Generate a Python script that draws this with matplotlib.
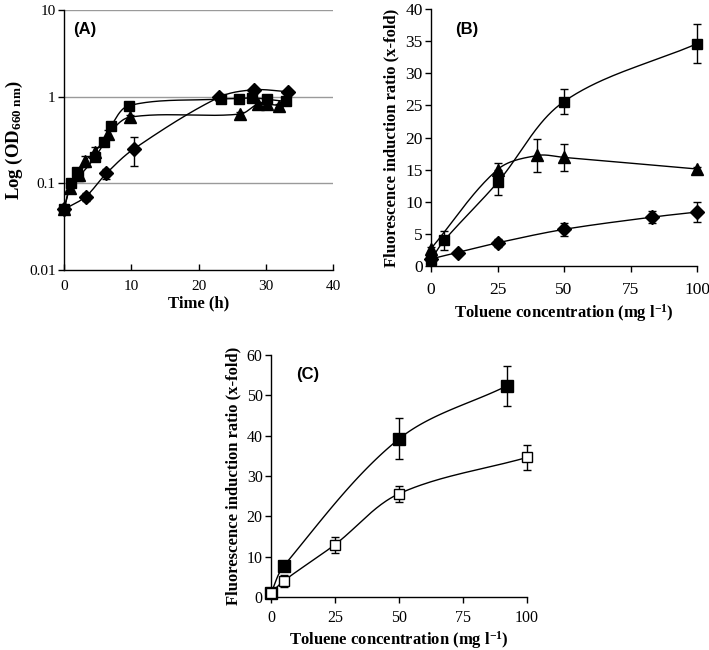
import numpy as np
import matplotlib
matplotlib.use("Agg")
import matplotlib.pyplot as plt

plt.rcParams['font.family'] = ['Liberation Serif', 'DejaVu Serif']
plt.rcParams['mathtext.fontset'] = 'custom'
plt.rcParams['mathtext.rm'] = 'Liberation Serif:bold'
plt.rcParams['mathtext.it'] = 'Liberation Serif:bold'
plt.rcParams['mathtext.bf'] = 'Liberation Serif:bold'

# ---------------- Panel A data ----------------
a_sq_t = [0, 1.0, 2.0, 2.1, 4.6, 6.0, 7.0, 9.7, 23.4, 26.0, 28.0, 30.2, 33.0]
a_sq_y = [0.05, 0.10, 0.136, 0.12, 0.20, 0.30, 0.46, 0.79, 0.94, 0.95, 0.97, 0.93, 0.88]
a_sq_e = [0, 0, 0.01, 0.01, 0.015, 0.02, 0.03, 0.03, 0.04, 0.03, 0.05, 0.04, 0.04]

a_tr_t = [0, 0.9, 2.2, 3.1, 4.6, 6.6, 9.8, 26.2, 28.8, 30.2, 32.0]
a_tr_y = [0.05, 0.088, 0.125, 0.18, 0.23, 0.37, 0.58, 0.63, 0.82, 0.82, 0.79]
a_tr_e = [0, 0.005, 0.01, 0.025, 0.035, 0.04, 0.04, 0.03, 0.04, 0.03, 0.03]

a_di_t = [0, 3.2, 6.3, 10.4, 23.0, 28.2, 33.3]
a_di_y = [0.05, 0.07, 0.13, 0.25, 0.98, 1.2, 1.14]
a_di_e = [0, 0.008, 0.017, 0.09, 0.07, 0.06, 0.04]

# ---------------- Panel B data ----------------
b_sq_x = [0, 5, 25, 50, 100]
b_sq_y = [1.0, 4.0, 13.0, 25.6, 34.6]
b_sq_e = [0.3, 1.5, 2.0, 2.0, 3.0]

b_tr_x = [0, 25, 40, 50, 100]
b_tr_y = [2.7, 15.0, 17.2, 16.9, 15.1]
b_tr_e = [0.3, 1.1, 2.6, 2.1, 0.3]

b_di_x = [0, 10, 25, 50, 83, 100]
b_di_y = [1.1, 2.1, 3.6, 5.7, 7.6, 8.4]
b_di_e = [0.2, 0.2, 0.6, 1.0, 0.9, 1.5]

# ---------------- Panel C data ----------------
c_fill_x = [0, 5, 50, 92]
c_fill_y = [1.0, 7.7, 39.2, 52.3]
c_fill_e = [0.3, 1.3, 5.1, 5.0]

c_open_x = [0, 5, 25, 50, 100]
c_open_y = [1.0, 4.0, 13.0, 25.6, 34.6]
c_open_e = [0.3, 1.5, 2.0, 2.0, 3.0]


def smooth(ax, x, y, n=40, logy=False):
    """Smoothed line (cubic Bezier with neighbour-based tangents) in display-like space."""
    x = np.asarray(x, float)
    y = np.asarray(y, float)
    if logy:
        y = np.log10(y)
    x0, x1 = ax.get_xlim()
    y0, y1 = ax.get_ylim()
    if logy:
        y0, y1 = np.log10(y0), np.log10(y1)
    pos = ax.get_position()
    sx = pos.width / (x1 - x0)
    sy = pos.height / (y1 - y0) * (650 / 709)
    P = np.column_stack([(x - x0) * sx, (y - y0) * sy])
    m = len(P)
    D = []
    for i in range(m):
        a = P[max(i - 1, 0)]
        b = P[min(i + 1, m - 1)]
        d = b - a
        nrm = np.hypot(*d)
        D.append(d / nrm if nrm > 0 else np.zeros(2))
    D = np.array(D)
    out = []
    t = np.linspace(0, 1, n)[:, None]
    for i in range(m - 1):
        p1, p2 = P[i], P[i + 1]
        L = np.hypot(*(p2 - p1))
        c1 = p1 + D[i] * L / 3
        c2 = p2 - D[i + 1] * L / 3
        B = (1 - t) ** 3 * p1 + 3 * (1 - t) ** 2 * t * c1 + 3 * (1 - t) * t ** 2 * c2 + t ** 3 * p2
        out.append(B)
    B = np.vstack(out)
    bx = B[:, 0] / sx + x0
    by = B[:, 1] / sy + y0
    if logy:
        by = 10 ** by
    return bx, by


def series(ax, x, y, e, marker, ms, mfc='black', logy=False):
    sx, sy = smooth(ax, x, y, logy=logy)
    ax.plot(sx, sy, color='black', lw=1.0, zorder=2, clip_on=False)
    eb = ax.errorbar(x, y, yerr=e, fmt='none', ecolor='black', elinewidth=1.0,
                     capsize=3, capthick=1.0, zorder=3)
    for art in eb.lines[1] + eb.lines[2]:
        art.set_clip_on(False)
    ax.plot(x, y, linestyle='none', marker=marker, ms=ms, mfc=mfc,
            mec='black', mew=1.0, zorder=4, clip_on=False)


def style(ax, size):
    for s in ['top', 'right']:
        ax.spines[s].set_visible(False)
    for s in ['left', 'bottom']:
        ax.spines[s].set_linewidth(1.0)
    ax.tick_params(labelsize=size, length=4, width=1.0, direction='out', pad=2)


fig = plt.figure(figsize=(7.09, 6.5), dpi=100)

label_font = dict(fontsize=12, fontweight='bold', family='Liberation Serif')
panel_font = dict(fontsize=12, fontweight='bold', family='Liberation Sans')

# ---------- A ----------
axA = fig.add_axes([64 / 709, 1 - 270 / 650, 269 / 709, 260 / 650])
axA.set_yscale('log')
axA.set_ylim(0.01, 10)
axA.set_xlim(0, 40)
for g in [0.1, 1, 10]:
    axA.axhline(g, color='#9a9a9a', lw=1.0, zorder=1)
series(axA, a_sq_t, a_sq_y, a_sq_e, 's', 7.5, logy=True)
series(axA, a_tr_t, a_tr_y, a_tr_e, '^', 8, logy=True)
series(axA, a_di_t, a_di_y, a_di_e, 'D', 7, logy=True)
style(axA, 11)
axA.set_xticks([0, 10, 20, 30, 40])
axA.set_yticks([0.01, 0.1, 1, 10])
axA.set_yticklabels(['0.01', '0.1', '1', '10'])
axA.yaxis.set_minor_locator(matplotlib.ticker.NullLocator())
axA.tick_params(axis='x', direction='in', pad=7)
axA.set_xlabel('Time (h)', labelpad=2, **label_font)
axA.set_ylabel(r'Log (OD$_{\mathregular{660\ nm}}$)', labelpad=3,
               fontsize=13.5, fontweight='bold', family='Liberation Serif')
axA.text(0.035, 0.955, '(A)', transform=axA.transAxes, va='top', ha='left', **panel_font)

# ---------- B ----------
axB = fig.add_axes([431 / 709, 1 - 266 / 650, 266 / 709, 257 / 650])
axB.set_xlim(0, 100)
axB.set_ylim(0, 40)
series(axB, b_sq_x, b_sq_y, b_sq_e, 's', 7.5)
series(axB, b_tr_x, b_tr_y, b_tr_e, '^', 8)
series(axB, b_di_x, b_di_y, b_di_e, 'D', 7)
style(axB, 12.5)
axB.tick_params(axis='x', pad=7.5)
axB.set_xticks([0, 25, 50, 75, 100])
axB.set_yticks(range(0, 41, 5))
axB.set_xlabel(r'Toluene concentration (mg l$^{-1}$)', labelpad=3, **label_font)
axB.set_ylabel('Fluorescence induction ratio (x-fold)', labelpad=4, **label_font)
axB.text(0.09, 0.95, '(B)', transform=axB.transAxes, va='top', ha='left', **panel_font)

# ---------- C ----------
axC = fig.add_axes([271 / 709, 1 - 597 / 650, 256 / 709, 242 / 650])
axC.set_xlim(0, 100)
axC.set_ylim(0, 60)
series(axC, c_fill_x, c_fill_y, c_fill_e, 's', 8.5)
series(axC, c_open_x, c_open_y, c_open_e, 's', 7.5, mfc='white')
style(axC, 11.5)
axC.tick_params(axis='x', pad=5.5)
axC.set_xticks([0, 25, 50, 75, 100])
axC.set_yticks(range(0, 61, 10))
axC.set_xlabel(r'Toluene concentration (mg l$^{-1}$)', labelpad=2, **label_font)
axC.set_ylabel('Fluorescence induction ratio (x-fold)', labelpad=4, **label_font)
axC.text(0.1, 0.95, '(C)', transform=axC.transAxes, va='top', ha='left', **panel_font)

for ax in (axA, axB, axC):
    for lab in ax.get_xticklabels() + ax.get_yticklabels():
        lab.set_family('Liberation Serif')

fig.savefig('out.png', dpi=100)
